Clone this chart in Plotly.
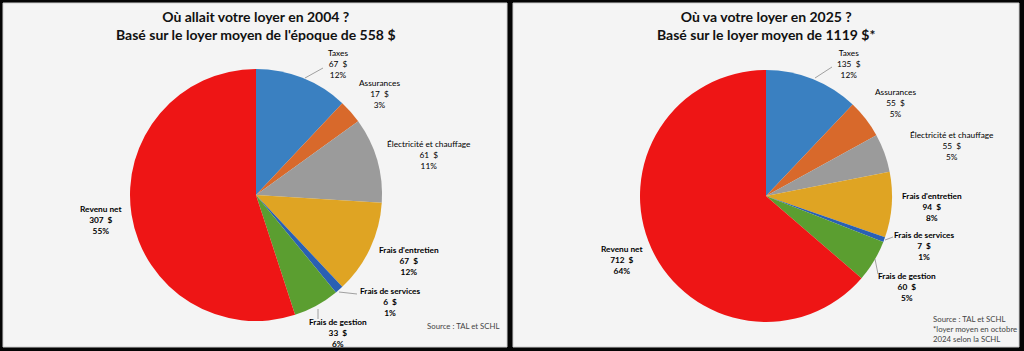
import plotly.graph_objects as go

categories = ["Taxes", "Assurances", "Électricité et chauffage", "Frais d'entretien",
              "Frais de services", "Frais de gestion", "Revenu net"]
values_2004 = [67, 17, 61, 67, 6, 33, 307]
values_2025 = [135, 55, 55, 94, 7, 60, 712]
colors = ["#3a80c1", "#d8692b", "#9b9b9b", "#dfa423", "#2a60b3", "#5b9e30", "#ee1515"]

title_2004 = "Où allait votre loyer en 2004 ?<br>Basé sur le loyer moyen de l'époque de 558 $"
title_2025 = "Où va votre loyer en 2025 ?<br>Basé sur le loyer moyen de 1119 $*"
source_2004 = "Source : TAL et SCHL"
source_2025 = "Source : TAL et SCHL<br>*loyer moyen en octobre<br>2024 selon la SCHL"

W, H = 1024, 351
def px(x): return x / W
def py(y): return 1 - y / H

# label centres (pixels) for each panel
label_pos_2004 = [(338, 64), (379, 94), (429, 155), (409, 261), (390, 302), (338, 333), (101, 220)]
label_pos_2025 = [(849, 64), (895, 103), (952, 146), (932, 207), (924, 246), (907, 287), (622, 260)]
label_bold = [False, False, False, True, True, True, True]

leaders_2004 = [((323, 68), (305, 78)), ((339, 292), (357, 294)), ((318, 309), (318, 319))]
leaders_2025 = [((832, 67), (815, 78)), ((885, 240), (893, 237)), ((875, 259), (878, 274))]

fig = go.Figure()
for vals, dom in [(values_2004, ((130, 382), (69, 321))), (values_2025, ((640, 892), (70, 322)))]:
    (x0, x1), (y0, y1) = dom
    fig.add_trace(go.Pie(
        labels=categories, values=vals, sort=False, direction="clockwise", rotation=0,
        marker=dict(colors=colors, line=dict(width=0)),
        textinfo="none", hoverinfo="label+value+percent", showlegend=False,
        domain=dict(x=[px(x0), px(x1)], y=[py(y1), py(y0)]),
    ))

shapes = []
for x0, x1 in [(3, 507), (513, 1019)]:
    shapes.append(dict(type="rect", xref="paper", yref="paper", x0=px(x0), x1=px(x1),
                       y0=py(347), y1=py(3), fillcolor="#f4f4f4",
                       line=dict(color="#d0d0d0", width=1), layer="below"))
for (a, b) in leaders_2004 + leaders_2025:
    shapes.append(dict(type="line", xref="paper", yref="paper", x0=px(a[0]), y0=py(a[1]),
                       x1=px(b[0]), y1=py(b[1]), line=dict(color="#8a8a8a", width=0.8)))

annotations = []
for title, cx in [(title_2004, 256), (title_2025, 766)]:
    annotations.append(dict(text="<b>" + title + "</b>", x=px(cx), y=py(25), xref="paper", yref="paper",
                            showarrow=False, xanchor="center", yanchor="middle",
                            font=dict(family="Lato", size=14, color="#111111")))

for vals, positions in [(values_2004, label_pos_2004), (values_2025, label_pos_2025)]:
    total = sum(vals)
    for cat, v, (lx, ly), bold in zip(categories, vals, positions, label_bold):
        t = f"{cat}<br>{v}  $<br>{round(100 * v / total)}%"
        if bold:
            t = "<b>" + t + "</b>"
        annotations.append(dict(text=t, x=px(lx), y=py(ly), xref="paper", yref="paper",
                                showarrow=False, xanchor="center", yanchor="middle",
                                font=dict(family="Lato", size=8.3, color="#000000")))

annotations.append(dict(text=source_2004, x=px(463), y=py(326), xref="paper", yref="paper",
                        showarrow=False, xanchor="center", yanchor="middle",
                        font=dict(family="Lato", size=7.8, color="#444444")))
annotations.append(dict(text=source_2025, x=px(931), y=py(329), xref="paper", yref="paper",
                        showarrow=False, xanchor="left", yanchor="middle", align="left",
                        font=dict(family="Lato", size=7.8, color="#444444")))

fig.update_layout(width=W, height=H, margin=dict(l=0, r=0, t=0, b=0),
                  paper_bgcolor="#050505", plot_bgcolor="#050505",
                  shapes=shapes, annotations=annotations)

fig.write_html("out.html", config={"displayModeBar": False})
